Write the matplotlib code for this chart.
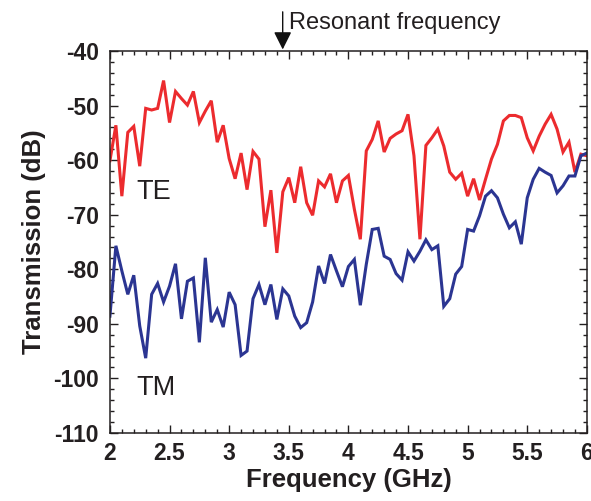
import numpy as np
import matplotlib
matplotlib.use("Agg")
import matplotlib.pyplot as plt
from matplotlib.ticker import MultipleLocator

freq = [round(2.0 + 0.05 * i, 2) for i in range(81)]

te = [-60.1, -53.6, -66.6, -54.9, -53.8, -61.1, -50.5, -50.8, -50.5, -45.4,
      -53.1, -47.4, -48.7, -49.9, -47.4, -53.1, -51.0, -49.1, -56.7, -53.6,
      -59.7, -63.4, -58.7, -65.4, -58.4, -59.8, -72.2, -65.5, -77.0, -65.8,
      -63.2, -67.8, -61.2, -67.8, -70.1, -63.8, -64.9, -62.5, -67.8, -63.8,
      -62.8, -69.0, -74.5, -58.3, -56.2, -52.8, -58.5, -56.0, -55.2, -54.6,
      -51.6, -59.2, -74.5, -57.3, -55.9, -54.3, -57.4, -62.2, -63.5, -62.4,
      -66.6, -63.4, -67.3, -63.5, -59.8, -57.1, -52.8, -51.8, -51.8, -52.2,
      -55.9, -58.3, -55.6, -53.4, -51.6, -54.3, -58.5, -56.7, -62.2, -58.9,
      -59.2]

tm = [-88.6, -75.7, -80.3, -84.6, -81.1, -90.4, -96.3, -84.6, -82.6, -86.0,
      -83.1, -79.0, -89.1, -82.2, -81.6, -93.4, -77.9, -89.7, -87.4, -90.6,
      -84.2, -86.5, -95.8, -95.0, -85.4, -82.8, -86.5, -82.8, -89.2, -83.6,
      -84.9, -88.6, -90.7, -89.8, -86.0, -79.4, -82.6, -77.3, -80.3, -83.2,
      -79.5, -78.2, -86.6, -79.1, -72.7, -72.5, -77.6, -78.2, -80.8, -82.0,
      -76.8, -78.5, -76.7, -74.6, -76.4, -75.7, -86.8, -85.4, -80.9, -79.5,
      -72.7, -73.0, -70.2, -66.6, -65.6, -66.9, -69.9, -72.4, -71.3, -75.4,
      -66.9, -63.5, -61.5, -62.2, -62.8, -66.0, -64.7, -62.9, -62.9, -59.2,
      -58.7]

xticks = [2, 2.5, 3, 3.5, 4, 4.5, 5, 5.5, 6]
xticklabels = ["2", "2.5", "3", "3.5", "4", "4.5", "5", "5.5", "6"]
yticks = [-110, -100, -90, -80, -70, -60, -50, -40]
yticklabels = ["-110", "-100", "-90", "-80", "-70", "-60", "-50", "-40"]

plt.rcParams['font.family'] = ['Liberation Sans', 'DejaVu Sans']
plt.rcParams['axes.unicode_minus'] = False

ink = '#231F20'

fig = plt.figure(figsize=(5.91, 5.01), dpi=100)
ax = fig.add_axes([0.186, 0.136, 0.807, 0.762])

ax.plot(freq, te, color='#EC2B2E', lw=2.2, solid_joinstyle='miter')
ax.plot(freq, tm, color='#2B3592', lw=2.2, solid_joinstyle='miter')

ax.set_xlim(2, 6)
ax.set_ylim(-110, -40)
ax.set_xticks(xticks)
ax.set_xticklabels(xticklabels)
ax.set_yticks(yticks)
ax.set_yticklabels(yticklabels)
ax.xaxis.set_minor_locator(MultipleLocator(0.1))
ax.yaxis.set_minor_locator(MultipleLocator(2))
ax.tick_params(which='both', direction='in', top=True, right=True, width=1.0,
               color=ink)
ax.tick_params(which='major', length=5.8, labelsize=16.5)
ax.tick_params(axis='y', which='major', pad=8)
ax.tick_params(axis='x', which='major', pad=6.5)
ax.tick_params(which='minor', length=2.9)
for lab in ax.get_xticklabels() + ax.get_yticklabels():
    lab.set_fontweight('bold')
    lab.set_color(ink)
for sp in ax.spines.values():
    sp.set_linewidth(1.1)
    sp.set_color(ink)

ax.set_xlabel('Frequency (GHz)', fontsize=18.5, fontweight='bold', color=ink, labelpad=2)
ax.set_ylabel('Transmission (dB)', fontsize=18.5, fontweight='bold', color=ink, labelpad=5)

ax.text(2.225, -65.9, 'TE', fontsize=19.5, color=ink, va='center', ha='left')
ax.text(2.225, -101.7, 'TM', fontsize=19.5, color=ink, va='center', ha='left')

ax.annotate('', xy=(3.449, -39.7), xytext=(3.449, -32.8),
            xycoords='data', textcoords='data', annotation_clip=False,
            arrowprops=dict(arrowstyle='-|>', color='#111111', lw=1.0,
                            mutation_scale=27, shrinkA=0, shrinkB=0))
ax.text(3.50, -34.9, 'Resonant frequency', fontsize=17, color=ink,
        va='center', ha='left', clip_on=False)

fig.savefig('out.png', dpi=100)
